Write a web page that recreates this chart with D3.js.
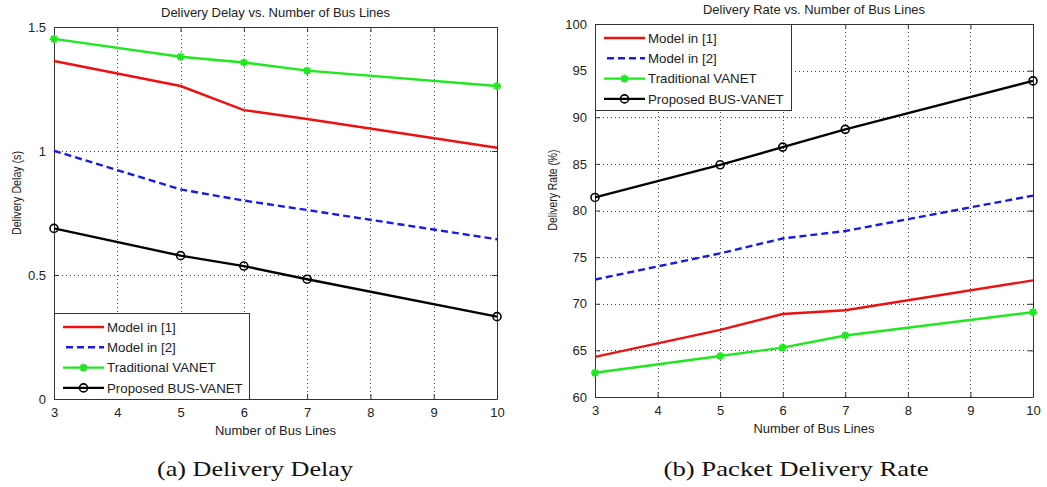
<!DOCTYPE html>
<html>
<head>
<meta charset="utf-8">
<script src="https://cdn.jsdelivr.net/npm/d3@7"></script>
<style>
  html, body { margin: 0; padding: 0; background: #fff; }
  svg { display: block; }
</style>
</head>
<body>
<svg id="chart" width="1047" height="487"></svg>
<script>
// ---- data ----
const busLines = [3, 5, 6, 7, 10];
const xTicks = [3, 4, 5, 6, 7, 8, 9, 10];
const seriesNames = ["Model in [1]", "Model in [2]", "Traditional VANET", "Proposed BUS-VANET"];

// (a) Delivery Delay (s)
const delayModel1 = [1.363, 1.262, 1.165, 1.129, 1.013];
const delayModel2 = [1.001, 0.845, 0.800, 0.762, 0.644];
const delayTraditional = [1.452, 1.380, 1.357, 1.324, 1.262];
const delayProposed = [0.688, 0.578, 0.536, 0.483, 0.332];
const delayTicks = [0, 0.5, 1, 1.5];

// (b) Delivery Rate (%)
const rateModel1 = [64.3, 67.2, 68.9, 69.3, 72.5];
const rateModel2 = [72.6, 75.4, 77.0, 77.8, 81.6];
const rateTraditional = [62.6, 64.4, 65.3, 66.6, 69.1];
const rateProposed = [81.4, 84.9, 86.8, 88.7, 93.9];
const rateTicks = [60, 65, 70, 75, 80, 85, 90, 95, 100];

// ---- styles ----
const styles = [
  { color: "#ee1111", dash: null, marker: null },
  { color: "#1a1ae6", dash: "7,4", marker: null },
  { color: "#1ee81e", dash: null, marker: "star" },
  { color: "#000000", dash: null, marker: "circle" }
];
const FONT = "'Liberation Sans', Arial, sans-serif";
const SERIF = "'Liberation Serif', 'DejaVu Serif', serif";
const svg = d3.select("#chart");

function panel(cfg) {
  const g = svg.append("g");
  const x = d3.scaleLinear().domain([3, 10]).range([cfg.left, cfg.right]);
  const y = d3.scaleLinear().domain(cfg.yDomain).range([cfg.bottom, cfg.top]);

  // grid
  const grid = g.append("g").attr("stroke", "#444").attr("stroke-width", 1)
    .attr("stroke-dasharray", "1,3");
  grid.selectAll(".gx").data(xTicks.slice(1, -1)).join("line")
    .attr("x1", d => Math.round(x(d)) + 0.5).attr("x2", d => Math.round(x(d)) + 0.5)
    .attr("y1", cfg.top).attr("y2", cfg.bottom);
  grid.selectAll(".gy").data(cfg.yTicks.slice(1, -1)).join("line")
    .attr("y1", d => Math.round(y(d)) + 0.5).attr("y2", d => Math.round(y(d)) + 0.5)
    .attr("x1", cfg.left).attr("x2", cfg.right);

  // axes (MATLAB style: ticks inward on all four sides)
  const axB = d3.axisBottom(x).tickValues(xTicks).tickSizeInner(-5).tickSizeOuter(0).tickPadding(9)
    .tickFormat(d3.format("d"));
  const axT = d3.axisTop(x).tickValues(xTicks).tickSizeInner(-5).tickSizeOuter(0).tickFormat("");
  const axL = d3.axisLeft(y).tickValues(cfg.yTicks).tickSizeInner(-5).tickSizeOuter(0).tickPadding(8)
    .tickFormat(cfg.yFormat);
  const axR = d3.axisRight(y).tickValues(cfg.yTicks).tickSizeInner(-5).tickSizeOuter(0).tickFormat("");

  function styleAxis(sel) {
    sel.selectAll("path").attr("stroke", "#333");
    sel.selectAll("line").attr("stroke", "#333");
    sel.selectAll("text").attr("font-family", FONT).attr("font-size", 13).attr("fill", "#222");
  }
  g.append("g").attr("transform", `translate(0,${cfg.bottom})`).call(axB).call(styleAxis);
  g.append("g").attr("transform", `translate(0,${cfg.top})`).call(axT).call(styleAxis);
  g.append("g").attr("transform", `translate(${cfg.left},0)`).call(axL).call(styleAxis);
  g.append("g").attr("transform", `translate(${cfg.right},0)`).call(axR).call(styleAxis);

  // series
  const line = d3.line().x((d, i) => x(busLines[i])).y(d => y(d));
  cfg.series.forEach((vals, si) => {
    const st = styles[si];
    g.append("path").datum(vals).attr("d", line)
      .attr("fill", "none").attr("stroke", st.color).attr("stroke-width", 2.4)
      .attr("stroke-dasharray", st.dash);
    drawMarkers(g, st, vals.map((v, i) => [x(busLines[i]), y(v)]));
  });

  // titles
  g.append("text").attr("x", (cfg.left + cfg.right) / 2).attr("y", cfg.titleY)
    .attr("text-anchor", "middle").attr("font-family", FONT).attr("font-size", 13.5)
    .attr("fill", "#222").attr("textLength", cfg.titleLen).attr("lengthAdjust", "spacingAndGlyphs")
    .text(cfg.title);
  g.append("text").attr("x", (cfg.left + cfg.right) / 2).attr("y", cfg.xLabelY)
    .attr("text-anchor", "middle").attr("font-family", FONT).attr("font-size", 13)
    .attr("fill", "#222").attr("textLength", 121).attr("lengthAdjust", "spacingAndGlyphs")
    .text("Number of Bus Lines");
  g.append("text")
    .attr("transform", `translate(${cfg.yLabelX},${cfg.yLabelCY}) rotate(-90)`)
    .attr("text-anchor", "middle").attr("font-family", FONT).attr("font-size", 12.5)
    .attr("fill", "#222").attr("textLength", cfg.yLabelLen).attr("lengthAdjust", "spacingAndGlyphs")
    .text(cfg.yLabel);
  g.append("text").attr("x", cfg.captionX).attr("y", 476)
    .attr("text-anchor", "middle").attr("font-family", SERIF)
    .attr("font-size", 21).attr("fill", "#111")
    .attr("textLength", cfg.captionLen).attr("lengthAdjust", "spacingAndGlyphs")
    .text(cfg.caption);

  // legend
  const lg = g.append("g");
  lg.append("rect").attr("x", cfg.legend.x + 0.5).attr("y", cfg.legend.y + 0.5)
    .attr("width", cfg.legend.w).attr("height", cfg.legend.h)
    .attr("fill", "#fff").attr("stroke", "#333").attr("stroke-width", 1);
  seriesNames.forEach((name, si) => {
    const st = styles[si];
    const yy = cfg.legend.y + 14 + si * 20.3;
    const x0 = cfg.legend.x + 9, x1 = cfg.legend.x + 50;
    lg.append("line").attr("x1", st.dash ? x0 + 3 : x0).attr("x2", x1).attr("y1", yy).attr("y2", yy)
      .attr("stroke", st.color).attr("stroke-width", 2.4).attr("stroke-dasharray", st.dash);
    drawMarkers(lg, st, [[(x0 + x1) / 2, yy]]);
    lg.append("text").attr("x", x1 + 3).attr("y", yy).attr("dy", "0.36em")
      .attr("font-family", FONT).attr("font-size", 13.3).attr("fill", "#222").text(name);
  });
}

function drawMarkers(g, st, pts) {
  if (st.marker === "circle") {
    g.selectAll(null).data(pts).join("circle")
      .attr("cx", d => d[0]).attr("cy", d => d[1]).attr("r", 4)
      .attr("fill", "none").attr("stroke", st.color).attr("stroke-width", 1.6);
  } else if (st.marker === "star") {
    // MATLAB-style asterisk
    const r = 4, d = r * 0.72;
    const p = `M${-r},0L${r},0M0,${-r}L0,${r}M${-d},${-d}L${d},${d}M${-d},${d}L${d},${-d}`;
    g.selectAll(null).data(pts).join("path")
      .attr("transform", q => `translate(${q[0]},${q[1]})`).attr("d", p)
      .attr("fill", "none").attr("stroke", st.color).attr("stroke-width", 2);
  }
}

panel({
  left: 54, right: 497, top: 27, bottom: 399,
  yDomain: [0, 1.5], yTicks: delayTicks, yFormat: d3.format(""),
  series: [delayModel1, delayModel2, delayTraditional, delayProposed],
  title: "Delivery Delay vs. Number of Bus Lines", titleY: 16.5, titleLen: 229,
  xLabelY: 435, yLabel: "Delivery Delay (s)", yLabelX: 21, yLabelCY: 193, yLabelLen: 84,
  caption: "(a) Delivery Delay", captionX: 255, captionLen: 196,
  legend: { x: 54, y: 313, w: 195, h: 86 }
});

panel({
  left: 595, right: 1033, top: 24, bottom: 397,
  yDomain: [60, 100], yTicks: rateTicks, yFormat: d3.format(""),
  series: [rateModel1, rateModel2, rateTraditional, rateProposed],
  title: "Delivery Rate vs. Number of Bus Lines", titleY: 14, titleLen: 222,
  xLabelY: 432.5, yLabel: "Delivery Rate (%)", yLabelX: 557, yLabelCY: 190, yLabelLen: 81,
  caption: "(b) Packet Delivery Rate", captionX: 796, captionLen: 265,
  legend: { x: 595, y: 24, w: 196, h: 86 }
});
</script>
</body>
</html>
